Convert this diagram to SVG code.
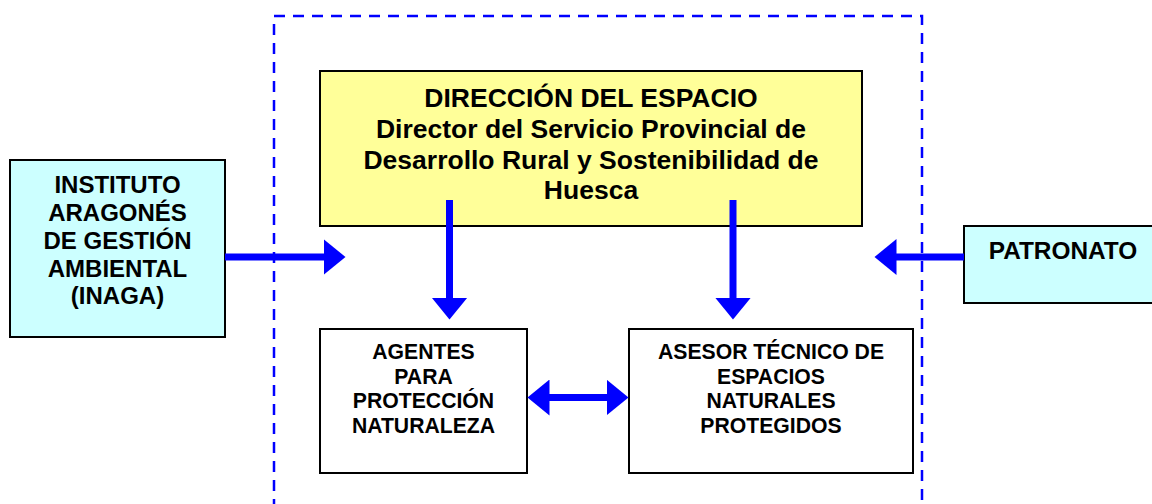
<svg xmlns="http://www.w3.org/2000/svg" width="1152" height="504" viewBox="0 0 1152 504">
<style>
.box{stroke:#000;stroke-width:2}
.t{font-family:"Liberation Sans",Arial,sans-serif;font-weight:bold;fill:#000;text-anchor:middle}
.conn{stroke:#0000FF;stroke-width:7;fill:none}
.frame{stroke:#0000FF;stroke-width:2.5;fill:none;stroke-dasharray:11 8}
</style>
<defs>
<marker id="ah" markerUnits="userSpaceOnUse" markerWidth="23" markerHeight="36" refX="0.5" refY="18" orient="auto-start-reverse">
<path d="M0,0 L22,18 L0,36 Z" fill="#0000FF"/>
</marker>
</defs>
<rect width="1152" height="504" fill="#fff"/>
<path id="boundary" class="frame" d="M274,510 V16 H922 V510"/>
<g id="direccion">
<rect class="box" x="320" y="71" width="542" height="155" fill="#FFFF99"/>
<text class="t" font-size="26.5" x="591" y="107">DIRECCIÓN DEL ESPACIO</text>
<text class="t" font-size="26.5" x="591" y="138">Director del Servicio Provincial de</text>
<text class="t" font-size="26.5" x="591" y="169">Desarrollo Rural y Sostenibilidad de</text>
<text class="t" font-size="26.5" x="591" y="199">Huesca</text>
</g>
<g id="inaga">
<rect class="box" x="10" y="160" width="215" height="177" fill="#CCFFFF"/>
<text class="t" font-size="24" x="117.5" y="193">INSTITUTO</text>
<text class="t" font-size="24" x="117.5" y="221">ARAGONÉS</text>
<text class="t" font-size="24" x="117.5" y="249">DE GESTIÓN</text>
<text class="t" font-size="24" x="117.5" y="277">AMBIENTAL</text>
<text class="t" font-size="24" x="117.5" y="304">(INAGA)</text>
</g>
<g id="patronato">
<rect class="box" x="964" y="226" width="200" height="77" fill="#CCFFFF"/>
<text class="t" font-size="24.4" x="1063" y="259">PATRONATO</text>
</g>
<g id="agentes">
<rect class="box" x="320" y="329" width="207" height="144" fill="#fff"/>
<text class="t" font-size="21.2" x="423.5" y="359">AGENTES</text>
<text class="t" font-size="21.2" x="423.5" y="384">PARA</text>
<text class="t" font-size="21.2" x="423.5" y="408">PROTECCIÓN</text>
<text class="t" font-size="21.2" x="423.5" y="433">NATURALEZA</text>
</g>
<g id="asesor">
<rect class="box" x="629" y="329" width="284" height="144" fill="#fff"/>
<text class="t" font-size="21.2" x="771" y="359">ASESOR TÉCNICO DE</text>
<text class="t" font-size="21.2" x="771" y="384">ESPACIOS</text>
<text class="t" font-size="21.2" x="771" y="408">NATURALES</text>
<text class="t" font-size="21.2" x="771" y="433">PROTEGIDOS</text>
</g>
<g id="connectors">
<line class="conn" x1="225" y1="257" x2="324" y2="257" marker-end="url(#ah)"/>
<line class="conn" x1="964" y1="257" x2="896" y2="257" marker-end="url(#ah)"/>
<line class="conn" x1="449.5" y1="200" x2="449.5" y2="298" marker-end="url(#ah)"/>
<line class="conn" x1="733" y1="200" x2="733" y2="298" marker-end="url(#ah)"/>
<line class="conn" x1="549" y1="397.5" x2="607" y2="397.5" marker-start="url(#ah)" marker-end="url(#ah)"/>
</g>
</svg>
